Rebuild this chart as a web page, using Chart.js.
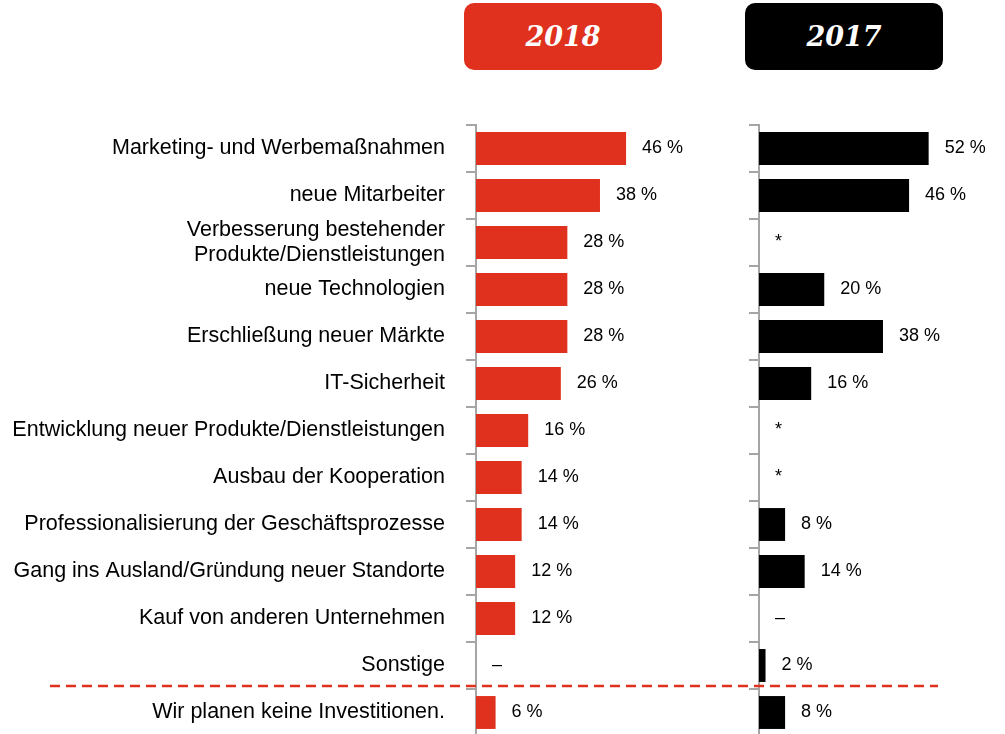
<!DOCTYPE html>
<html>
<head>
<meta charset="utf-8">
<script src="https://cdn.jsdelivr.net/npm/chart.js@4"></script>
<style>
  body {
    margin: 0;
    width: 1005px;
    height: 734px;
    overflow: hidden;
    background: #fff;
    position: relative;
  }
  .year {
    position: absolute;
    top: 3px;
    width: 198px;
    height: 67px;
    border-radius: 10px;
    color: #fff;
    font: italic bold 27px "DejaVu Serif", serif;
    display: flex;
    align-items: center;
    justify-content: center;
  }
  .y2018 { left: 464px; background: #e0301e; }
  .y2017 { left: 745px; background: #000; }
  canvas { position: absolute; top: 85px; }
  #chart2018 { left: 0; }
  #chart2017 { left: 740px; }
</style>
</head>
<body>
<div class="year y2018">2018</div>
<div class="year y2017">2017</div>
<canvas id="chart2018" width="740" height="691"></canvas>
<canvas id="chart2017" width="280" height="691"></canvas>
<script>
// Data
const categories = [
  'Marketing- und Werbemaßnahmen',
  'neue Mitarbeiter',
  ['Verbesserung bestehender', 'Produkte/Dienstleistungen'],
  'neue Technologien',
  'Erschließung neuer Märkte',
  'IT-Sicherheit',
  'Entwicklung neuer Produkte/Dienstleistungen',
  'Ausbau der Kooperation',
  'Professionalisierung der Geschäftsprozesse',
  'Gang ins Ausland/Gründung neuer Standorte',
  'Kauf von anderen Unternehmen',
  'Sonstige',
  'Wir planen keine Investitionen.'
];
const values2018 = [46, 38, 28, 28, 28, 26, 16, 14, 14, 12, 12, null, 6];
const values2017 = [52, 46, null, 20, 38, 16, null, null, 8, 14, null, 2, 8];
// shown instead of a bar when there is no value
const notes2018 = ['', '', '', '', '', '', '', '', '', '', '', '–', ''];
const notes2017 = ['', '', '*', '', '', '', '*', '*', '', '', '–', '', ''];
const xMax = 80;

const RED = '#e0301e';
const AXIS_GREY = '#a5a5a5';
const SANS = '"Liberation Sans", Arial, sans-serif';

// value text after each bar, or the note for empty ones
const valueLabels = {
  id: 'valueLabels',
  afterDatasetsDraw(chart, args, opts) {
    const ctx = chart.ctx;
    const xScale = chart.scales.x;
    const yScale = chart.scales.y;
    const data = chart.data.datasets[0].data;
    ctx.save();
    ctx.font = '18px ' + SANS;
    ctx.fillStyle = '#000';
    ctx.textAlign = 'left';
    ctx.textBaseline = 'middle';
    data.forEach((v, i) => {
      const y = yScale.getPixelForValue(i);
      if (v === null) {
        ctx.fillText(opts.notes[i], xScale.getPixelForValue(0) + 16, y);
      } else {
        ctx.fillText(v + ' %', xScale.getPixelForValue(v) + 16, y);
      }
    });
    ctx.restore();
  }
};

// red dashed separator above the last category
const separator = {
  id: 'separator',
  afterDraw(chart, args, opts) {
    const ctx = chart.ctx;
    const yScale = chart.scales.y;
    const n = categories.length;
    const y = (yScale.getPixelForValue(n - 2) + yScale.getPixelForValue(n - 1)) / 2 - 3;
    ctx.save();
    ctx.strokeStyle = RED;
    ctx.lineWidth = 2.5;
    ctx.setLineDash([10, 6]);
    ctx.lineDashOffset = opts.dashOffset;
    ctx.beginPath();
    ctx.moveTo(opts.from, y);
    ctx.lineTo(opts.to, y);
    ctx.stroke();
    ctx.restore();
  }
};

function makeChart(id, values, color, notes, showLabels, axisWidth, line) {
  return new Chart(document.getElementById(id), {
    type: 'bar',
    data: {
      labels: categories,
      datasets: [{
        data: values,
        backgroundColor: color,
        barPercentage: 0.7,
        categoryPercentage: 1.0
      }]
    },
    options: {
      indexAxis: 'y',
      responsive: false,
      animation: false,
      layout: { padding: { top: 40, bottom: 40, left: 0, right: showLabels ? 3 : 0 } },
      plugins: {
        legend: { display: false },
        tooltip: { enabled: false },
        valueLabels: { notes: notes },
        separator: line
      },
      scales: {
        x: { display: false, min: 0, max: xMax },
        y: {
          afterFit: (scale) => { scale.width = axisWidth; },
          border: { color: AXIS_GREY, width: 2 },
          grid: {
            drawOnChartArea: false,
            offset: true,
            color: AXIS_GREY,
            lineWidth: 2,
            tickLength: 10
          },
          ticks: {
            display: showLabels,
            autoSkip: false,
            padding: 21,
            color: '#000',
            font: { family: SANS, size: 21.5 }
          }
        }
      }
    },
    plugins: [valueLabels, separator]
  });
}

makeChart('chart2018', values2018, RED, notes2018, true, 476,
  { from: 50, to: 740, dashOffset: 0 });
makeChart('chart2017', values2017, '#000', notes2017, false, 19,
  { from: 0, to: 938 - 740, dashOffset: 740 - 50 });
</script>
</body>
</html>
